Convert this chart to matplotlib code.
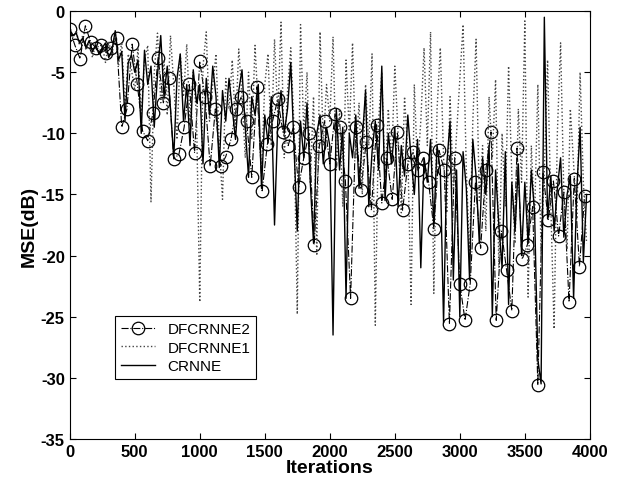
import numpy as np
import matplotlib
matplotlib.use("Agg")
import matplotlib.pyplot as plt

plt.rcParams['font.family'] = ['Liberation Sans', 'DejaVu Sans']
plt.rcParams['axes.unicode_minus'] = False

# iterations for the two dense curves (every 25) and the marked curve (every 40)
iters = np.arange(0, 4000, 25)
iters_m = np.arange(0, 4000, 40)

crnne = [
    -1.5, -2.0, -1.8, -2.6, -2.2, -3.0, -2.4, -3.3, -2.8, -3.5,
    -3.0, -2.6, -3.8, -3.2, -1.6, -4.0, -3.3, -9.0, -4.2, -3.6,
    -5.0, -4.0, -10.0, -3.2, -6.0, -4.5, -9.5, -5.2, -2.0, -7.0,
    -4.5, -8.0, -12.0, -5.5, -3.5, -9.0, -6.0, -11.0, -4.8, -7.5,
    -6.0, -12.5, -5.5, -8.5, -4.5, -7.0, -12.8, -6.5, -9.0, -5.5,
    -8.0, -10.5, -6.5, -4.8, -9.5, -13.6, -7.0, -8.5, -6.0, -14.5,
    -8.5, -10.8, -7.0, -17.5, -9.0, -6.5, -10.0, -8.0, -4.2, -11.0,
    -18.0, -9.0, -12.0, -7.5, -14.0, -19.0, -10.0, -8.5, -12.5, -9.5,
    -11.0, -26.5, -8.0, -13.0, -9.5, -23.5, -10.0, -12.0, -8.5, -14.5,
    -10.5, -6.5, -16.0, -11.5, -9.0, -13.0, -4.5, -15.5, -10.0, -12.5,
    -9.5, -16.0, -11.0, -13.5, -8.5, -12.0, -15.0, -10.5, -21.0, -12.0,
    -14.0, -10.5, -17.5, -11.0, -13.0, -25.5, -12.5, -9.0, -22.0, -13.0,
    -25.0, -11.5, -14.5, -22.0, -10.5, -13.5, -19.0, -12.0, -15.0, -11.0,
    -25.0, -13.0, -17.5, -21.0, -11.5, -24.0, -14.0, -18.0, -12.5, -20.0,
    -14.0, -19.0, -13.0, -16.5, -28.5, -30.5, -0.5, -17.0, -13.5, -18.0,
    -14.5, -12.0, -18.5, -15.0, -13.5, -23.5, -14.5, -9.5, -20.5, -15.0,
]

dfcrnne1 = [
    -1.2, -2.2, -1.6, -2.8, -2.0, -3.2, -2.5, -3.8, -2.6, -3.4,
    -2.8, -4.2, -2.5, -3.6, -1.8, -4.5, -2.5, -8.0, -3.5, -4.8,
    -6.5, -3.0, -8.5, -4.0, -2.8, -15.6, -5.0, -1.8, -7.5, -4.0,
    -8.5, -2.0, -6.0, -10.5, -3.5, -7.0, -2.7, -9.0, -5.0, -8.5,
    -23.8, -4.5, -1.7, -9.0, -6.0, -3.5, -11.0, -15.4, -5.5, -8.0,
    -4.0, -9.5, -3.1, -7.0, -12.0, -5.0, -10.5, -2.8, -8.0, -13.0,
    -6.0, -3.5, -11.0, -2.3, -8.5, -0.9, -12.0, -6.5, -3.0, -9.5,
    -24.8, -1.1, -10.0, -5.0, -14.0, -7.0, -20.0, -1.7, -11.0, -6.0,
    -9.0, -2.1, -13.0, -8.0, -16.0, -4.0, -10.0, -2.6, -12.0, -7.5,
    -15.0, -6.0, -11.0, -3.5, -25.7, -9.0, -5.0, -14.0, -8.0, -12.5,
    -4.5, -10.0, -16.5, -7.0, -11.5, -24.0, -6.0, -13.0, -9.0, -3.0,
    -11.0, -1.7, -23.1, -8.0, -3.0, -12.0, -16.5, -7.0, -14.5, -10.0,
    -5.5, -1.1, -13.0, -20.0, -9.0, -2.3, -15.5, -11.0, -18.0, -7.0,
    -12.0, -5.6, -21.0, -10.0, -16.0, -4.5, -13.5, -19.0, -8.0, -14.0,
    -0.8, -23.4, -11.0, -17.0, -6.0, -20.0, -13.0, -4.0, -16.0, -26.0,
    -10.0, -2.6, -15.0, -19.5, -8.0, -12.5, -17.0, -5.0, -14.0, -19.0,
]

dfcrnne2 = [
    -1.5, -2.8, -3.9, -1.2, -2.5, -3.0, -2.8, -3.4, -3.0, -2.2,
    -9.5, -8.0, -2.7, -6.0, -9.8, -10.6, -8.3, -3.8, -7.5, -5.5,
    -12.1, -11.7, -9.5, -6.0, -11.6, -4.1, -7.0, -12.7, -8.0, -12.7,
    -11.9, -10.5, -8.0, -7.0, -9.0, -13.6, -6.2, -14.7, -10.9, -9.0,
    -7.2, -9.9, -11.0, -9.5, -14.4, -12.0, -10.0, -19.1, -11.0, -9.0,
    -12.5, -8.4, -9.5, -13.9, -23.5, -9.5, -14.6, -10.7, -16.3, -9.3,
    -15.7, -12.0, -15.4, -9.9, -16.3, -12.5, -11.5, -13.0, -12.0, -14.0,
    -17.8, -11.4, -13.0, -25.6, -12.0, -22.3, -25.3, -22.3, -14.0, -19.4,
    -13.0, -9.9, -25.3, -18.0, -21.2, -24.5, -11.2, -20.3, -19.1, -16.0,
    -30.6, -13.2, -17.1, -13.9, -18.4, -14.8, -23.8, -13.7, -20.9, -15.1,
]

fig = plt.figure(figsize=(6.17, 4.85), dpi=100)
ax = fig.add_axes([0.113, 0.093, 0.843, 0.882])

ax.plot(iters_m, dfcrnne2, color='black', linestyle='-.', linewidth=0.8,
        marker='o', markersize=9, markerfacecolor='none', markeredgewidth=0.9,
        label='DFCRNNE2')
ax.plot(iters, dfcrnne1, color='#444444', linestyle=':', linewidth=1.0,
        label='DFCRNNE1')
ax.plot(iters, crnne, color='black', linestyle='-', linewidth=1.0,
        label='CRNNE')

ax.set_xlim(0, 4000)
ax.set_ylim(-35, 0)
ax.set_xticks(np.arange(0, 4001, 500))
ax.set_yticks(np.arange(-35, 1, 5))
ax.tick_params(direction='in', top=True, right=True, labelsize=12, length=4)
for lab in ax.get_xticklabels() + ax.get_yticklabels():
    lab.set_fontweight('bold')

ax.set_xlabel('Iterations', fontsize=14, fontweight='bold', labelpad=0)
ax.set_ylabel('MSE(dB)', fontsize=14, fontweight='bold', labelpad=2)

leg = ax.legend(loc='lower left', bbox_to_anchor=(0.073, 0.121), fontsize=11,
                fancybox=False, framealpha=1, edgecolor='black',
                borderpad=0.4, handlelength=2.2, labelspacing=0.3)
leg.get_frame().set_linewidth(0.8)

fig.savefig('out.png', dpi=100)
